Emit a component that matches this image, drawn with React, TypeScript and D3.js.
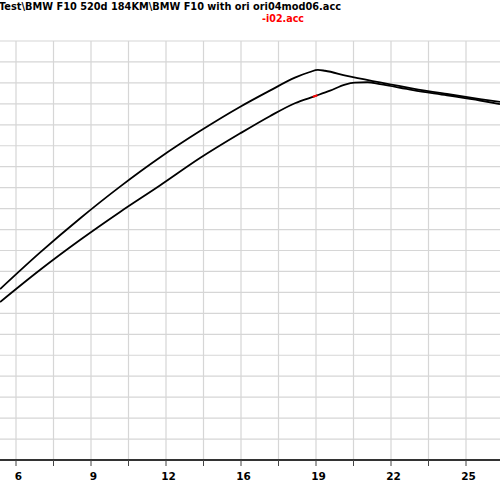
import React from "react";
import * as d3 from "d3";

const titleText = "Test\\BMW F10 520d 184KM\\BMW F10 with ori ori04mod06.acc";
const subtitleText = "-i02.acc";

const xTickValues = [6, 9.2, 12.4, 15.6, 18.8, 22, 25.2];
const xTickLabels = ["6", "9", "12", "16", "19", "22", "25"];
const xGridValues = [6, 7.6, 9.2, 10.8, 12.4, 14, 15.6, 17.2, 18.8, 20.4, 22, 23.6, 25.2];
const yGridValues = d3.range(10, 201, 10);

const upperX = [5.32, 7.02, 8.73, 10.44, 12.14, 13.85, 15.55, 16.83, 17.9, 18.54, 18.88, 19.18, 20.12, 21.53, 22.94, 24.39, 25.8, 26.65];
const upperY = [81.6, 99.0, 115.3, 130.5, 144.4, 157.0, 168.5, 176.3, 182.5, 185.2, 186.2, 185.8, 183.3, 180.2, 177.3, 174.7, 172.3, 170.9];

const lowerX = [5.32, 7.02, 8.73, 10.44, 12.14, 13.85, 15.55, 16.83, 17.9, 18.76, 19.4, 20.04, 20.46, 21.0, 21.53, 22.94, 24.39, 25.8, 26.65];
const lowerY = [75.4, 90.7, 105.0, 118.4, 131.0, 144.1, 155.8, 164.1, 170.3, 173.7, 176.3, 179.2, 180.1, 180.3, 179.4, 176.6, 174.1, 171.6, 169.9];

const markerRange = [18.66, 18.86];

export default function App() {
  const W = 500;
  const H = 500;
  const x = d3.scaleLinear().domain([6, 25.2]).range([16, 466]);
  const y = d3.scaleLinear().domain([0, 200]).range([460, 41]);

  const line = d3
    .line<[number, number]>()
    .x((d) => x(d[0]))
    .y((d) => y(d[1]))
    .curve(d3.curveMonotoneX);

  const upper: [number, number][] = upperX.map((v, i) => [v, upperY[i]]);
  const lower: [number, number][] = lowerX.map((v, i) => [v, lowerY[i]]);

  const lowerInterp = (v: number) => {
    for (let i = 0; i < lowerX.length - 1; i++) {
      if (v >= lowerX[i] && v <= lowerX[i + 1]) {
        const t = (v - lowerX[i]) / (lowerX[i + 1] - lowerX[i]);
        return lowerY[i] + t * (lowerY[i + 1] - lowerY[i]);
      }
    }
    return lowerY[lowerY.length - 1];
  };
  const marker: [number, number][] = markerRange.map((v) => [v, lowerInterp(v)]);

  const font = "'DejaVu Sans', Verdana, sans-serif";

  return (
    <svg
      width={W}
      height={H}
      style={{ position: "absolute", left: 0, top: 0, display: "block", background: "#fff" }}
    >
      <rect x={0} y={0} width={W} height={H} fill="#fff" />
      {yGridValues.map((v) => (
        <line key={"gy" + v} x1={0} x2={W} y1={y(v)} y2={y(v)} stroke="#d6d6d6" strokeWidth={1.2} />
      ))}
      {xGridValues.map((v) => (
        <line key={"gx" + v} x1={x(v)} x2={x(v)} y1={y(200)} y2={y(0)} stroke="#d6d6d6" strokeWidth={1.2} />
      ))}
      <path d={line(lower) || ""} fill="none" stroke="#000" strokeWidth={1.8} />
      <path d={line(upper) || ""} fill="none" stroke="#000" strokeWidth={1.8} />
      <path d={line(marker) || ""} fill="none" stroke="#ff0000" strokeWidth={1.9} />
      <line x1={0} x2={W} y1={y(0)} y2={y(0)} stroke="#333" strokeWidth={2} />
      {xGridValues.map((v) => (
        <line key={"tk" + v} x1={x(v)} x2={x(v)} y1={y(0)} y2={y(0) + 6} stroke="#444" strokeWidth={1} />
      ))}
      {xTickValues.map((v, i) => (
        <text
          key={"tl" + v}
          x={x(v) + 2.5}
          y={480}
          textAnchor="middle"
          fontFamily={font}
          fontWeight="bold"
          fontSize={10.5}
          fill="#000"
        >
          {xTickLabels[i]}
        </text>
      ))}
      <text
        x={-1}
        y={10}
        fontFamily={font}
        fontWeight="bold"
        fontSize={10.5}
        fill="#000"
        textLength={342}
        lengthAdjust="spacingAndGlyphs"
      >
        {titleText}
      </text>
      <text
        x={262}
        y={22}
        fontFamily={font}
        fontWeight="bold"
        fontSize={10.5}
        fill="#ff0000"
        textLength={42}
        lengthAdjust="spacingAndGlyphs"
      >
        {subtitleText}
      </text>
    </svg>
  );
}
